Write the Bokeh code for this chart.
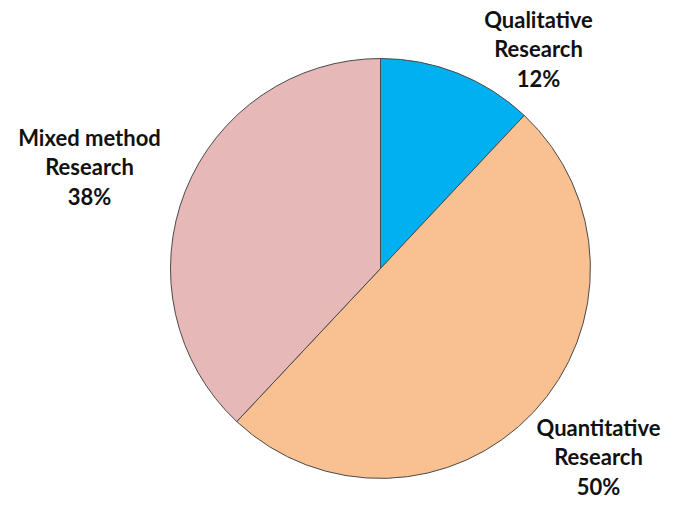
import math
from bokeh.plotting import figure
from bokeh.models import Range1d, ColumnDataSource
from bokeh.core.properties import value
from bokeh.embed import file_html
from bokeh.resources import INLINE

categories = ["Qualitative Research", "Quantitative Research", "Mixed method Research"]
values = [12, 50, 38]
colors = ["#00B0F0", "#F9C191", "#E6B8B7"]

# layout (pixel-like coordinates, y measured downward from top)
W, H = 662, 499
cx, cy_img, radius = 380, 268, 210
label_pos = [(538, 48), (598, 456), (89, 166)]
line_gap = 29.5

p = figure(width=W, height=H, output_backend="svg", toolbar_location=None,
           x_range=Range1d(0, W), y_range=Range1d(0, H), min_border=0)
p.axis.visible = False
p.grid.visible = False
p.outline_line_color = None
p.background_fill_color = "white"

def Y(y_img):
    return H - y_img

total = sum(values)
starts, ends = [], []
cum = 0.0
for v in values:
    starts.append(math.pi / 2 - cum / total * 2 * math.pi)
    cum += v
    ends.append(math.pi / 2 - cum / total * 2 * math.pi)

src = ColumnDataSource(dict(start=starts, end=ends, color=colors, cat=categories, val=values))
p.wedge(x=cx, y=Y(cy_img), radius=radius, start_angle="start", end_angle="end",
        direction="clock", fill_color="color", line_color="#4a4a4a", line_width=1,
        source=src)

xs, ys, texts = [], [], []
for cat, v, (lx, ly) in zip(categories, values, label_pos):
    first, second = cat.rsplit(" ", 1)
    lines = [first, second, f"{v}%"]
    for i, t in enumerate(lines):
        xs.append(lx)
        ys.append(Y(ly + (i - 1) * line_gap))
        texts.append(t)

p.text(x=xs, y=ys, text=texts, text_align="center", text_baseline="middle",
       text_font=value("Lato"), text_font_style="bold", text_font_size="22px",
       text_color="#111111")

open("out.html", "w").write(file_html(p, INLINE))
